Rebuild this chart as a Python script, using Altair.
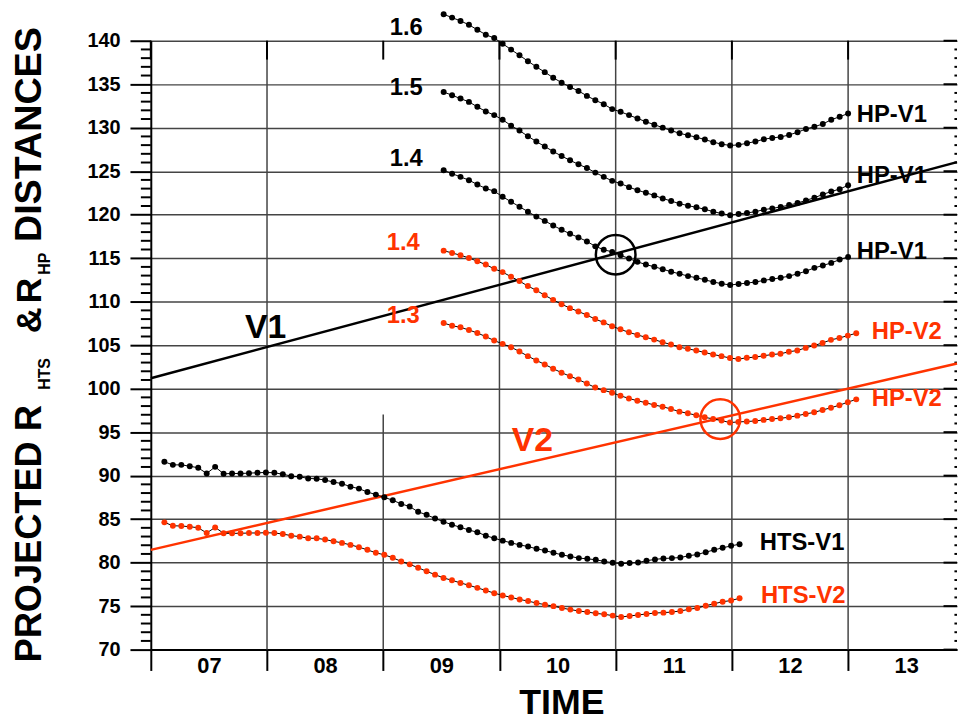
import altair as alt
import numpy as np
import pandas as pd

# ------------------------------------------------------------------ data
RED = "#ff3300"
X_MIN, X_MAX = 7.0, 13.937          # days (plot spans 07 .. ~14)
DAY_TICKS = [7, 8, 9, 10, 11, 12, 13]
Y_MAJOR = list(range(70, 141, 5))
Y_MINOR = [v for v in range(70, 141) if v % 5 != 0]

HTS_START, HTS_END = 7.117, 12.066
HP_START, HP_V1_END, HP_V2_END = 9.52, 13.0, 13.07

HTS_V1 = [91.59, 91.24, 91.24, 91.09, 90.90, 90.25, 91.01, 90.21, 90.25, 90.25,
          90.29, 90.33, 90.37, 90.33, 90.17, 89.94, 89.87, 89.68, 89.64, 89.49,
          89.26, 89.08, 88.73, 88.51, 88.12, 87.82, 87.51, 87.17, 86.75, 86.45,
          85.84, 85.50, 85.08, 84.70, 84.36, 84.06, 83.75, 83.49, 83.10, 82.80,
          82.53, 82.27, 82.04, 81.85, 81.59, 81.39, 81.13, 80.90, 80.71, 80.52,
          80.44, 80.33, 80.14, 79.99, 79.87, 79.95, 80.02, 80.22, 80.37, 80.48,
          80.52, 80.59, 80.79, 80.94, 81.20, 81.47, 81.70, 81.93, 82.12]
HTS_V2 = [84.63, 84.24, 84.21, 84.13, 84.01, 83.41, 84.05, 83.37, 83.37, 83.37,
          83.41, 83.41, 83.44, 83.41, 83.29, 83.10, 82.99, 82.80, 82.80, 82.65,
          82.46, 82.27, 82.04, 81.78, 81.47, 81.13, 80.90, 80.56, 80.14, 79.80,
          79.42, 79.00, 78.62, 78.24, 77.97, 77.67, 77.40, 77.10, 76.80, 76.49,
          76.23, 76.00, 75.77, 75.58, 75.35, 75.17, 75.00, 74.78, 74.60, 74.44,
          74.32, 74.17, 74.06, 73.91, 73.75, 73.87, 73.98, 74.10, 74.21, 74.25,
          74.32, 74.44, 74.63, 74.78, 75.05, 75.28, 75.50, 75.65, 75.90]
HP_V1_16 = [143.04, 142.66, 142.28, 141.83, 141.26, 140.69, 140.31, 139.66, 138.98, 138.33,
            137.65, 137.00, 136.39, 135.75, 135.18, 134.68, 134.23, 133.66, 133.16, 132.71,
            132.14, 131.83, 131.45, 131.07, 130.69, 130.35, 130.01, 129.67, 129.36, 129.13,
            128.91, 128.64, 128.34, 128.11, 127.96, 128.03, 128.22, 128.41, 128.68, 128.83,
            128.94, 129.17, 129.48, 129.86, 130.12, 130.43, 130.92, 131.26, 131.64]
HP_V1_15 = [134.11, 133.73, 133.35, 132.97, 132.40, 131.87, 131.45, 130.92, 130.24, 129.67,
            129.02, 128.41, 127.84, 127.27, 126.74, 126.25, 125.79, 125.37, 124.84, 124.35,
            123.89, 123.58, 123.17, 122.82, 122.52, 122.22, 121.87, 121.57, 121.27, 121.04,
            120.85, 120.62, 120.35, 120.13, 119.94, 120.09, 120.20, 120.35, 120.58, 120.73,
            120.89, 121.11, 121.34, 121.65, 121.95, 122.33, 122.67, 122.94, 123.39]
HP_V1_14 = [125.11, 124.72, 124.35, 123.97, 123.47, 123.01, 122.71, 122.06, 121.49, 120.92,
            120.35, 119.78, 119.29, 118.76, 118.26, 117.81, 117.39, 116.93, 116.36, 115.98,
            115.72, 115.34, 114.96, 114.58, 114.27, 114.01, 113.74, 113.44, 113.21, 112.94,
            112.75, 112.52, 112.26, 112.07, 111.92, 112.03, 112.14, 112.26, 112.45, 112.60,
            112.75, 112.94, 113.21, 113.51, 113.89, 114.16, 114.46, 114.84, 115.15]
HP_V2_14 = [115.87, 115.60, 115.34, 115.03, 114.65, 114.27, 113.78, 113.40, 112.87, 112.37,
            111.80, 111.31, 110.74, 110.21, 109.71, 109.26, 108.88, 108.46, 108.00, 107.62,
            107.17, 106.82, 106.48, 106.18, 105.91, 105.64, 105.34, 105.07, 104.77, 104.58,
            104.39, 104.16, 103.93, 103.74, 103.52, 103.40, 103.55, 103.63, 103.78, 103.93,
            104.01, 104.24, 104.39, 104.69, 104.96, 105.26, 105.61, 105.83, 106.10, 106.37]
HP_V2_13 = [107.54, 107.24, 107.05, 106.75, 106.40, 105.99, 105.53, 105.15, 104.77, 104.28,
            103.74, 103.25, 102.79, 102.30, 101.84, 101.43, 101.05, 100.59, 100.13, 99.83,
            99.53, 99.18, 98.88, 98.61, 98.39, 98.12, 97.93, 97.66, 97.36, 97.17,
            96.94, 96.71, 96.52, 96.33, 96.10, 96.18, 96.22, 96.29, 96.41, 96.52,
            96.60, 96.71, 96.90, 97.09, 97.28, 97.55, 97.81, 98.10, 98.45, 98.77]

# straight speed lines (value at left edge, value at right edge)
V1_LINE = [101.2, 126.05]
V2_LINE = [81.47, 102.9]

# highlighted crossings
CROSS_DAY = [11.0, 11.90]
CROSS_VAL = [115.4, 96.5]
CROSS_COLOR = ["black", RED]

# curve labels
LBL_TEXT = ["1.6", "1.5", "1.4", "1.4", "1.3", "HP-V1", "HP-V1", "HP-V1",
            "HP-V2", "HP-V2", "HTS-V1", "HTS-V2", "V1", "V2"]
LBL_DAY = [9.056, 9.056, 9.056, 9.03, 9.03, 13.075, 13.075, 13.075,
           13.203, 13.203, 12.24, 12.25, 7.81, 10.106]
LBL_VAL = [141.45, 134.6, 126.4, 116.7, 108.3, 131.5, 124.45, 115.7,
           106.55, 98.8, 82.3, 76.1, 107.0, 94.0]
LBL_COLOR = ["black", "black", "black", RED, RED, "black", "black", "black",
             RED, RED, "black", RED, "black", RED]
LBL_SIZE = [24] * 12 + [34, 34]

# ------------------------------------------------------------------ layout
W, H = 813, 614
PX_PER_DAY = 117.2
FONT = "Liberation Sans"

series_spec = [
    ("HTS-V1", HTS_V1, HTS_START, HTS_END, "black"),
    ("HTS-V2", HTS_V2, HTS_START, HTS_END, RED),
    ("HP16", HP_V1_16, HP_START, HP_V1_END, "black"),
    ("HP15", HP_V1_15, HP_START, HP_V1_END, "black"),
    ("HP14", HP_V1_14, HP_START, HP_V1_END, "black"),
    ("HPV2-14", HP_V2_14, HP_START, HP_V2_END, RED),
    ("HPV2-13", HP_V2_13, HP_START, HP_V2_END, RED),
]
rows = []
for name, vals, s, e, col in series_spec:
    for d, v in zip(np.linspace(s, e, len(vals)), vals):
        rows.append({"series": name, "day": d, "value": v, "color": col})
df = pd.DataFrame(rows)

lines_df = pd.DataFrame({
    "line": ["V1", "V1", "V2", "V2"],
    "day": [X_MIN, X_MAX, X_MIN, X_MAX],
    "value": V1_LINE + V2_LINE,
    "color": ["black", "black", RED, RED],
})
cross_df = pd.DataFrame({"day": CROSS_DAY, "value": CROSS_VAL, "color": CROSS_COLOR})
lbl_df = pd.DataFrame({"t": LBL_TEXT, "day": LBL_DAY, "value": LBL_VAL,
                       "color": LBL_COLOR, "fs": LBL_SIZE})

xs = alt.Scale(domain=[X_MIN, X_MAX], nice=False, zero=False)
ys = alt.Scale(domain=[70, 140], nice=False, zero=False)

x_axis = alt.Axis(
    values=DAY_TICKS, tickSize=21, tickWidth=2, tickColor="black",
    domainColor="black", domainWidth=2,
    labelExpr="datum.value < 10 ? '0' + datum.value : '' + datum.value",
    labelOffset=PX_PER_DAY / 2, labelPadding=-15, labelBaseline="top",
    labelAlign="center", labelFlush=False, labelOverlap=False,
    labelFont=FONT, labelFontSize=22, labelFontWeight="bold", labelColor="black",
    grid=False, title="TIME", titleFont=FONT, titleFontSize=36,
    titleFontWeight="bold", titleColor="black", titleX=414, titleY=64,
    titleAlign="center", titleBaseline="alphabetic",
)
y_axis = alt.Axis(
    values=Y_MAJOR, tickSize=21, tickWidth=2, tickColor="black",
    domainColor="black", domainWidth=2, labelFont=FONT, labelFontSize=20,
    labelFontWeight="bold", labelColor="black", labelPadding=10,
    labelFlush=False, grid=True, gridColor="#444444", gridWidth=1.5, title=None,
)


def X(field):
    return alt.X(field, type="quantitative", scale=xs, axis=x_axis)


def Y(field):
    return alt.Y(field, type="quantitative", scale=ys, axis=y_axis)


# vertical grid lines at day boundaries (the day-09 one is broken in its upper part)
vgrid = alt.Chart(pd.DataFrame({"day": [8, 10, 11, 12, 13]})).mark_rule(
    color="#444444", strokeWidth=1.5
).encode(x=X("day"), y=alt.value(0), y2=alt.value(H))
vgrid9 = alt.Chart(pd.DataFrame({"day": [9]})).mark_rule(
    color="#444444", strokeWidth=1.5
).encode(x=X("day"), y=alt.value(377), y2=alt.value(H))

# inward ticks along the top
top_ticks = alt.Chart(pd.DataFrame({"day": DAY_TICKS})).mark_rule(
    color="black", strokeWidth=2
).encode(x=X("day"), y=alt.value(0), y2=alt.value(19))

# minor ticks on the left (outward)
minor_df = pd.DataFrame({"v": Y_MINOR})
major_df = pd.DataFrame({"v": Y_MAJOR})
left_minor = alt.Chart(minor_df).mark_rule(color="black", strokeWidth=2).encode(
    y=Y("v"), x=alt.value(-10), x2=alt.value(0))

# inward ticks on the right (frame sits at day 14, just past the picture edge)
right_edge = (14 - X_MIN) * PX_PER_DAY
right_minor = alt.Chart(minor_df).mark_rule(color="black", strokeWidth=2).encode(
    y=Y("v"), x=alt.value(right_edge - 10), x2=alt.value(W))
right_major = alt.Chart(major_df).mark_rule(color="black", strokeWidth=2).encode(
    y=Y("v"), x=alt.value(right_edge - 21), x2=alt.value(W))

speed_lines = alt.Chart(lines_df).mark_line(strokeWidth=2.5).encode(
    x=X("day"), y=Y("value"), detail="line:N", color=alt.Color("color:N", scale=None))

curve_lines = alt.Chart(df).mark_line(color="black", strokeWidth=1).encode(
    x=X("day"), y=Y("value"), detail="series:N", order="day:Q")
curve_pts = alt.Chart(df).mark_circle(size=36, opacity=1).encode(
    x=X("day"), y=Y("value"), color=alt.Color("color:N", scale=None))

crosses = alt.Chart(cross_df).mark_point(
    shape="circle", filled=False, size=1600, strokeWidth=2.5, opacity=1
).encode(x=X("day"), y=Y("value"), color=alt.Color("color:N", scale=None))

labels = alt.Chart(lbl_df).mark_text(
    align="left", baseline="middle", font=FONT, fontWeight="bold"
).encode(x=X("day"), y=Y("value"), text="t:N",
         color=alt.Color("color:N", scale=None), size=alt.Size("fs:Q", scale=None))

# y-axis title with subscripts, one text piece per layer (pixel offsets from plot origin)
YT_TEXT = ["PROJECTED R", "HTS", "&", "R", "HP", "DISTANCES"]
YT_PX = [-111, -102, -111, -111, -102, -111]
YT_PY = [627, 352, 295, 265, 236, 203]
YT_FS = [36.5, 16, 36, 36, 16, 38]
one = pd.DataFrame({"k": [0]})
ytitle_layers = [
    alt.Chart(one).mark_text(
        text=t, angle=270, align="left", baseline="alphabetic", font=FONT,
        fontWeight="bold", fontSize=fs, color="black"
    ).encode(x=alt.value(px), y=alt.value(py))
    for t, px, py, fs in zip(YT_TEXT, YT_PX, YT_PY, YT_FS)
]

chart = alt.layer(
    vgrid, vgrid9, top_ticks, left_minor, right_minor, right_major, speed_lines,
    curve_lines, curve_pts, crosses, labels, *ytitle_layers
).properties(
    width=W, height=H,
    autosize=alt.AutoSizeParams(type="none"),
    padding={"left": 144, "top": 30, "right": 1, "bottom": 73},
    background="white",
).configure_view(stroke=None)

chart.save("out.html", embed_options={"renderer": "svg", "actions": False})
